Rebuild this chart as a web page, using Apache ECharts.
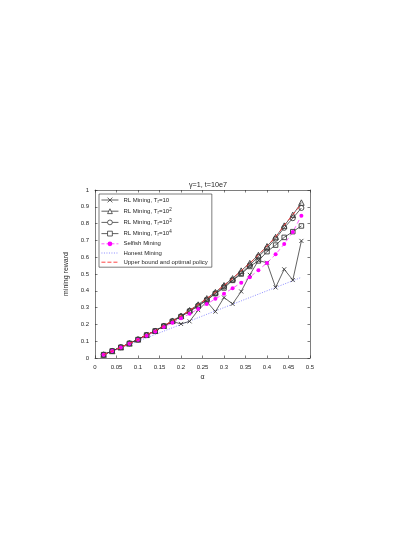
<!DOCTYPE html>
<html>
<head>
<meta charset="utf-8">
<script src="https://cdn.jsdelivr.net/npm/echarts@6/dist/echarts.min.js"></script>
<style>
  html, body { margin: 0; padding: 0; background: #fff; }
  #chart { width: 395px; height: 556px; }
</style>
</head>
<body>
<div id="chart"></div>
<script>
const alpha = [0.02, 0.04, 0.06, 0.08, 0.10, 0.12, 0.14, 0.16, 0.18, 0.20, 0.22, 0.24,
  0.26, 0.28, 0.30, 0.32, 0.34, 0.36, 0.38, 0.40, 0.42, 0.44, 0.46, 0.48]

const rlT1 = [0.02, 0.042, 0.064, 0.087, 0.11, 0.137, 0.161, 0.19, 0.217, 0.203, 0.218, 0.285,
  0.335, 0.276, 0.36, 0.322, 0.396, 0.495, 0.58, 0.567, 0.42, 0.528, 0.464, 0.697]
const rlT2 = [0.02, 0.042, 0.064, 0.087, 0.111, 0.138, 0.162, 0.192, 0.222, 0.251, 0.284, 0.318,
  0.355, 0.392, 0.433, 0.474, 0.52, 0.565, 0.613, 0.665, 0.72, 0.788, 0.852, 0.925]
const rlT3 = [0.02, 0.042, 0.064, 0.087, 0.11, 0.137, 0.161, 0.19, 0.219, 0.248, 0.28, 0.313,
  0.347, 0.385, 0.425, 0.464, 0.505, 0.552, 0.603, 0.652, 0.71, 0.775, 0.832, 0.893]
const rlT4 = [0.02, 0.042, 0.064, 0.087, 0.11, 0.137, 0.161, 0.19, 0.218, 0.246, 0.278, 0.308,
  0.344, 0.383, 0.417, 0.462, 0.5, 0.545, 0.578, 0.633, 0.672, 0.718, 0.752, 0.786]
const selfish = [0.02, 0.041, 0.063, 0.085, 0.108, 0.133, 0.158, 0.184, 0.21, 0.236, 0.263, 0.292,
  0.321, 0.352, 0.383, 0.415, 0.448, 0.481, 0.523, 0.566, 0.617, 0.678, 0.75, 0.847]
const honest = [0.02, 0.04, 0.06, 0.08, 0.10, 0.12, 0.14, 0.16, 0.18, 0.20, 0.22, 0.24,
  0.26, 0.28, 0.30, 0.32, 0.34, 0.36, 0.38, 0.40, 0.42, 0.44, 0.46, 0.48]
const upper = [0.02, 0.041, 0.063, 0.086, 0.11, 0.138, 0.161, 0.193, 0.22, 0.25, 0.283, 0.318,
  0.354, 0.391, 0.432, 0.473, 0.519, 0.564, 0.613, 0.666, 0.72, 0.79, 0.853, 0.915]

const names = ['RL Mining, T_r=10', 'RL Mining, T_r=10^2', 'RL Mining, T_r=10^3', 'RL Mining, T_r=10^4',
  'Selfish Mining', 'Honest Mining', 'Upper bound and optimal policy']
const richNames = {
  'RL Mining, T_r=10': 'RL Mining, T{s|r}=10',
  'RL Mining, T_r=10^2': 'RL Mining, T{s|r}=10{p|2}',
  'RL Mining, T_r=10^3': 'RL Mining, T{s|r}=10{p|3}',
  'RL Mining, T_r=10^4': 'RL Mining, T{s|r}=10{p|4}'
}

const pts = (ys) => alpha.map((a, i) => [a, ys[i]])
const font = 'Liberation Sans'
const ink = '#262626'
const gray = '#3a3a3a'
const cross = 'path://M0,0L10,10M10,0L0,10M5,5Z'

const rlSeries = (name, ys, symbol, size) => ({
  name,
  type: 'line',
  data: pts(ys),
  symbol,
  symbolSize: size,
  showAllSymbol: true,
  lineStyle: { color: gray, width: 0.8 },
  itemStyle: { color: 'rgba(255,255,255,0)', borderColor: gray, borderWidth: 0.9 },
  emphasis: { disabled: true }
})

const rlLegend = (name) => ({
  name,
  itemStyle: { color: '#fff', borderColor: gray, borderWidth: 0.8 },
  lineStyle: { color: gray, width: 0.8 }
})

// box-style axes: ticks inside on all four sides
const axisBits = {
  axisLine: { show: true, onZero: false, lineStyle: { color: ink, width: 0.6 } },
  axisTick: { show: true, inside: true, length: 2.5, lineStyle: { color: ink, width: 0.6 } },
  splitLine: { show: false }
}
const tickText = { fontSize: 6, color: ink, margin: 6, fontFamily: font }
const nameText = { fontSize: 7, color: ink, fontFamily: font }

const chart = echarts.init(document.getElementById('chart'))
chart.setOption({
  backgroundColor: '#fff',
  animation: false,
  textStyle: { fontFamily: font },
  title: {
    text: 'γ=1, t=10e7',
    left: 203,
    textAlign: 'center',
    top: 177,
    textStyle: { fontSize: 7.2, fontWeight: 'normal', color: ink, fontFamily: font }
  },
  grid: { left: 95, right: 85, top: 190, bottom: 198 },
  legend: {
    data: [
      rlLegend(names[0]),
      rlLegend(names[1]),
      rlLegend(names[2]),
      rlLegend(names[3]),
      { name: names[4], itemStyle: { color: '#ff00ff', borderWidth: 0 }, lineStyle: { color: '#ff33ff', width: 0.8, type: [3, 2] } },
      { name: names[5], itemStyle: { opacity: 0 }, lineStyle: { color: '#7f7fff', width: 0.9, type: [1, 1.5] } },
      { name: names[6], itemStyle: { opacity: 0 }, lineStyle: { color: '#ff3030', width: 0.9, type: [4, 2] } }
    ],
    orient: 'vertical',
    left: 99,
    top: 194,
    padding: [3, 4, 2, 2],
    itemGap: 3.2,
    itemWidth: 17,
    itemHeight: 6,
    borderColor: ink,
    borderWidth: 0.6,
    backgroundColor: '#fff',
    textStyle: {
      fontSize: 6, color: ink, fontFamily: font,
      rich: {
        s: { fontSize: 4.5, verticalAlign: 'bottom', padding: [3, 0, 0, 0], color: ink },
        p: { fontSize: 4.5, verticalAlign: 'top', padding: [0, 0, 3, 0], color: ink }
      }
    },
    formatter: (name) => richNames[name] || name
  },
  xAxis: [{
    type: 'value',
    min: 0, max: 0.5, interval: 0.05,
    name: 'α',
    nameLocation: 'middle',
    nameGap: 16,
    nameTextStyle: nameText,
    axisLabel: tickText,
    ...axisBits
  }, {
    type: 'value', position: 'top',
    min: 0, max: 0.5, interval: 0.05,
    axisLabel: { show: false },
    ...axisBits
  }],
  yAxis: [{
    type: 'value',
    min: 0, max: 1, interval: 0.1,
    name: 'mining reward',
    nameLocation: 'middle',
    nameGap: 13,
    nameTextStyle: nameText,
    axisLabel: tickText,
    ...axisBits
  }, {
    type: 'value', position: 'right',
    min: 0, max: 1, interval: 0.1,
    axisLabel: { show: false },
    ...axisBits
  }],
  series: [
    {
      name: 'Honest Mining',
      type: 'line',
      data: pts(honest),
      symbol: 'none',
      lineStyle: { color: '#7f7fff', width: 0.9, type: [1, 1.5] },
      itemStyle: { color: '#7f7fff' },
      z: 1
    },
    rlSeries(names[0], rlT1, cross, 4),
    rlSeries(names[1], rlT2, 'triangle', 5.5),
    rlSeries(names[2], rlT3, 'circle', 5),
    rlSeries(names[3], rlT4, 'rect', 4.5),
    {
      name: 'Selfish Mining',
      type: 'line',
      data: pts(selfish),
      symbol: 'circle',
      symbolSize: 4,
      showAllSymbol: true,
      lineStyle: { color: '#ff33ff', width: 0.8, type: [4, 3] },
      itemStyle: { color: '#ff00ff' },
      z: 3
    },
    {
      name: 'Upper bound and optimal policy',
      type: 'line',
      data: pts(upper),
      symbol: 'none',
      lineStyle: { color: '#ff3030', width: 0.9, type: [4, 3] },
      itemStyle: { color: '#ff3030' },
      z: 4
    }
  ]
})
</script>
</body>
</html>
